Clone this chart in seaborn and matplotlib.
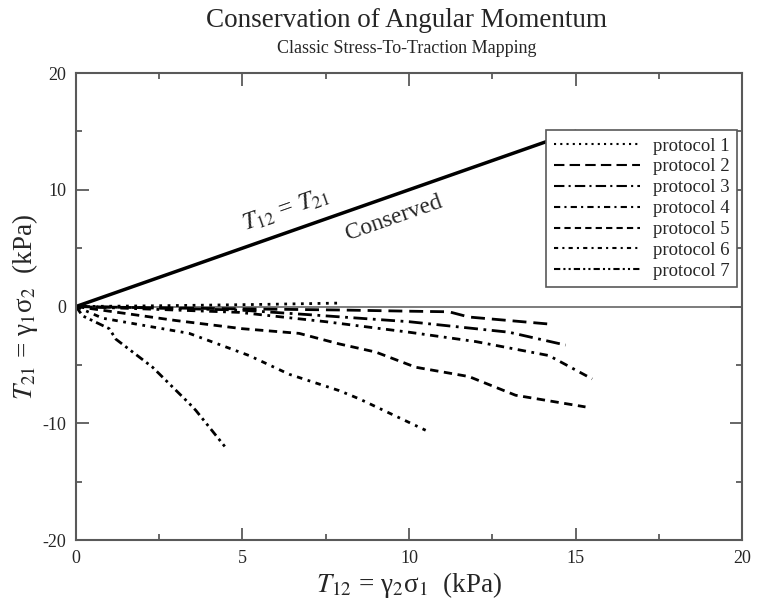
import matplotlib
matplotlib.use("Agg")
import matplotlib.pyplot as plt
import pandas as pd
import seaborn as sns

# values (kPa)
protocols = ["protocol 1", "protocol 2", "protocol 3", "protocol 4",
             "protocol 5", "protocol 6", "protocol 7"]

p1_x = [0, 2, 4, 6, 8]
p1_y = [0, 0.05, 0.12, 0.2, 0.3]

p2_x = [0, 2, 5, 8, 10, 11.2, 11.8, 14.2]
p2_y = [0, -0.1, -0.2, -0.3, -0.4, -0.45, -0.9, -1.5]

p3_x = [0, 2, 4.9, 7, 10, 13, 14.7]
p3_y = [0, -0.1, -0.3, -0.7, -1.3, -2.2, -3.3]

p4_x = [0, 2, 4.9, 7.5, 10, 12, 14.2, 15.5]
p4_y = [0, -0.2, -0.5, -1.3, -2.2, -3.0, -4.2, -6.2]

p5_x = [0, 1, 3, 5, 6.7, 7.9, 9.0, 10.2, 11.8, 13.2, 15.3]
p5_y = [0, -0.4, -1.2, -1.9, -2.3, -3.2, -3.9, -5.2, -6.0, -7.6, -8.6]

p6_x = [0, 0.8, 3.4, 5.2, 6.4, 7.9, 8.5, 10.5]
p6_y = [0, -1.0, -2.3, -4.2, -5.8, -7.2, -7.9, -10.6]

p7_x = [0, 0.2, 1.0, 1.2, 2.3, 3.4, 3.6, 4.5]
p7_y = [0, -0.8, -1.9, -2.8, -5.2, -8.3, -8.9, -12.1]

conserved_x = [0, 15]
conserved_y = [0, 15]

xs = [p1_x, p2_x, p3_x, p4_x, p5_x, p6_x, p7_x]
ys = [p1_y, p2_y, p3_y, p4_y, p5_y, p6_y, p7_y]

df = pd.concat([pd.DataFrame({"x": x, "y": y, "protocol": name})
                for name, x, y in zip(protocols, xs, ys)], ignore_index=True)

dash_map = {
    "protocol 1": (1, 2),
    "protocol 2": (5, 2.5),
    "protocol 3": (5, 2, 1, 2),
    "protocol 4": (3, 2, 1, 2),
    "protocol 5": (3, 2),
    "protocol 6": (2, 2, 1, 2),
    "protocol 7": (3, 1.5, 1, 1.5, 1, 1.5),
}

sns.set_theme(style="ticks")
plt.rcParams["font.family"] = ["Liberation Serif", "DejaVu Serif"]
plt.rcParams["mathtext.fontset"] = "stix"
plt.rcParams["axes.unicode_minus"] = False

fig = plt.figure(figsize=(7.62, 6.05), dpi=100)
ax = fig.add_axes([0.0997, 0.1074, 0.8741, 0.7719])

ax.axhline(0, color="0.4", lw=1.2, zorder=1)
sns.lineplot(x=conserved_x, y=conserved_y, color="black", lw=2.5, ax=ax, legend=False)
sns.lineplot(data=df, x="x", y="y", style="protocol", dashes=dash_map,
             color="black", linewidth=2, estimator=None, sort=False, ax=ax)

ax.text(6.3, 8.3, r"$T_{12}$ = $T_{21}$", fontsize=18, rotation=45,
        transform_rotates_text=True, rotation_mode="anchor",
        ha="center", va="center")
ax.text(9.55, 7.55, "Conserved", fontsize=17, rotation=45,
        transform_rotates_text=True, rotation_mode="anchor",
        ha="center", va="center")

ax.set_xlim(0, 20)
ax.set_ylim(-20, 20)
ax.set_xticks([0, 5, 10, 15, 20])
ax.set_xticks([2.5, 7.5, 12.5, 17.5], minor=True)
ax.set_yticks([-20, -10, 0, 10, 20])
ax.set_yticks([-15, -5, 5, 15], minor=True)
ax.tick_params(which="both", direction="in", top=True, right=True,
               color="0.3", width=1.2, labelsize=13, pad=7)
ax.tick_params(which="major", length=9)
ax.tick_params(which="minor", length=4.5)
for s in ax.spines.values():
    s.set_color("0.35")
    s.set_linewidth(1.5)

ax.set_xlabel(r"$T_{12}$ = γ$_2$σ$_1$  (kPa)", fontsize=19.5, labelpad=2)
ax.set_ylabel(r"$T_{21}$ = γ$_1$σ$_2$  (kPa)", fontsize=19.5, labelpad=2)

handles, labels = ax.get_legend_handles_labels()
leg = ax.legend(handles, labels, loc="upper right", bbox_to_anchor=(0.9925, 0.878),
                borderaxespad=0, fontsize=13.5, handlelength=4.6, handletextpad=0.7,
                labelspacing=0.2, fancybox=False, framealpha=1, edgecolor="0.35",
                borderpad=0.4)
leg.get_frame().set_linewidth(1.2)
for h in leg.get_lines():
    h.set_linewidth(1.5)
    h.set_color("black")

fig.text(0.534, 0.955, "Conservation of Angular Momentum", fontsize=19.5,
         ha="center", va="baseline")
fig.text(0.534, 0.913, "Classic Stress-To-Traction Mapping", fontsize=13,
         ha="center", va="baseline")

fig.savefig("out.png", dpi=100)
